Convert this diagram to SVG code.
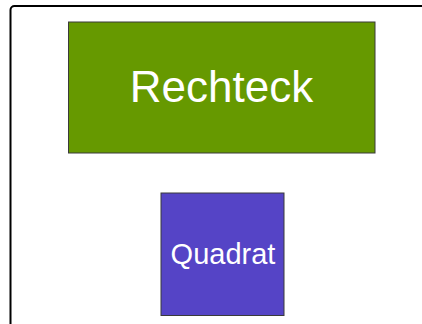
<svg xmlns="http://www.w3.org/2000/svg" width="422" height="324" viewBox="0 0 422 324">
<style>
.box{stroke:#3a3a3a;stroke-width:1}
.lbl{font-family:"Liberation Sans",Arial,sans-serif;fill:#ffffff;text-anchor:middle}
</style>
<rect x="0" y="0" width="422" height="324" fill="#ffffff"/>
<rect id="frame" x="10.5" y="6" width="420" height="330" rx="4" ry="4" fill="none" stroke="#000000" stroke-width="2"/>
<g id="rechteck">
<rect class="box" x="68.5" y="22" width="306.5" height="131" fill="#669900"/>
<text class="lbl" x="221.5" y="102" font-size="44">Rechteck</text>
</g>
<g id="quadrat">
<rect class="box" x="161" y="193" width="123" height="122.5" fill="#5544c6"/>
<text class="lbl" x="223" y="264" font-size="29">Quadrat</text>
</g>
<g id="connectors"></g>
</svg>
